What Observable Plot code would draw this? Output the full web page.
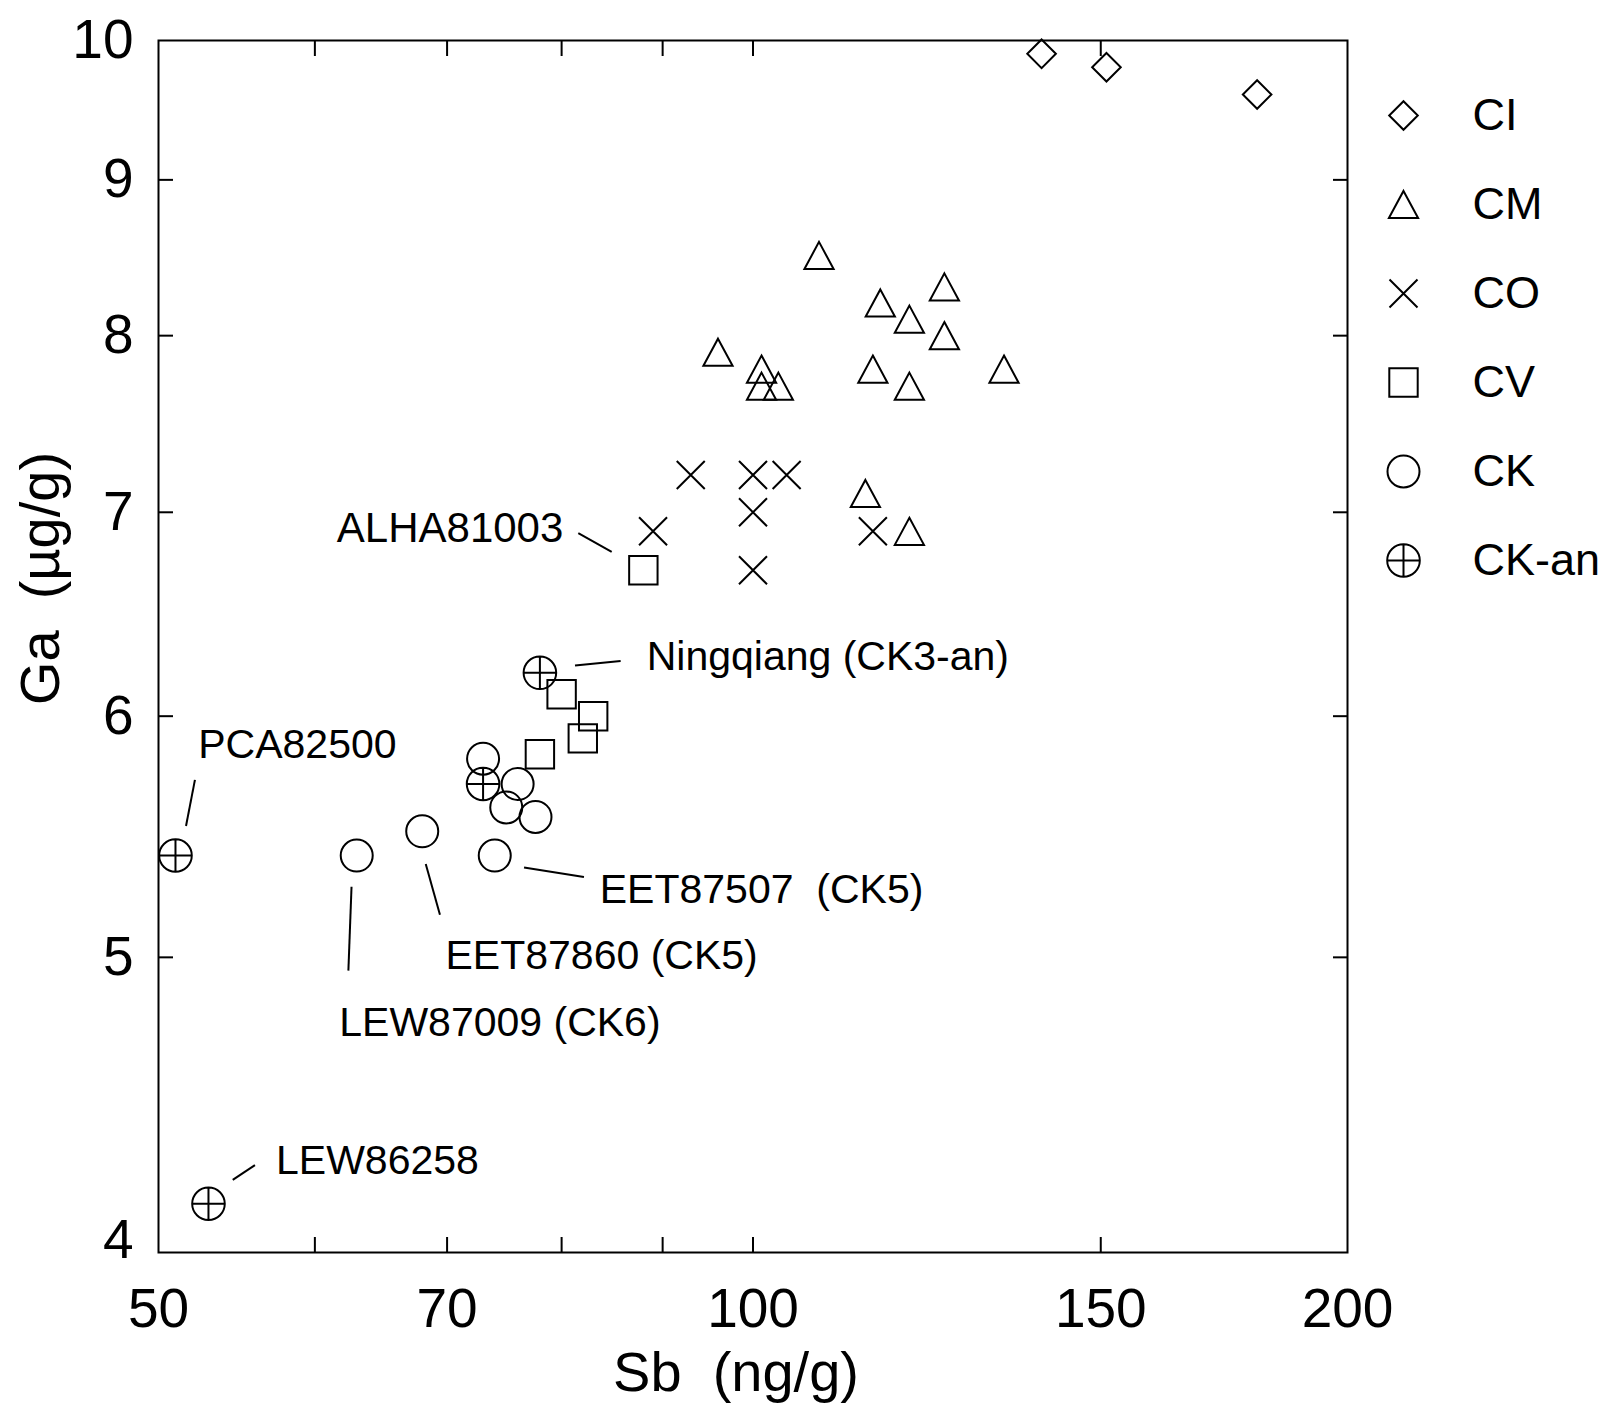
<!DOCTYPE html>
<html>
<head>
<meta charset="utf-8">
<script src="https://cdn.jsdelivr.net/npm/d3@7"></script>
<script src="https://cdn.jsdelivr.net/npm/@observablehq/plot@0.6"></script>
<style>
  html, body { margin: 0; padding: 0; background: #fff; }
  #wrap { position: relative; width: 1602px; height: 1407px; background: #fff; }
  #wrap svg { position: absolute; white-space: pre; }
</style>
</head>
<body>
<div id="wrap"></div>
<script>
// ---------------- data ----------------
const classes = ["CI", "CM", "CO", "CV", "CK", "CK-an"];

const ciSb = [140, 151, 180];
const ciGa = [9.9, 9.8, 9.6];

const cmSb = [108, 125, 116, 120, 125, 96, 101, 101, 103, 115, 120, 134, 114, 120];
const cmGa = [8.5, 8.3, 8.2, 8.1, 8.0, 7.9, 7.8, 7.7, 7.7, 7.8, 7.7, 7.8, 7.1, 6.9];

const coSb = [93, 100, 104, 100, 89, 115, 100];
const coGa = [7.2, 7.2, 7.2, 7.0, 6.9, 6.9, 6.7];

const cvSb = [88, 80, 83, 82, 78];
const cvGa = [6.7, 6.1, 6.0, 5.9, 5.83];

const ckSb = [73, 76, 75, 77.6, 68, 63, 74];
const ckGa = [5.81, 5.7, 5.6, 5.56, 5.5, 5.4, 5.4];

const ckanSb = [78, 73, 51, 53];
const ckanGa = [6.2, 5.7, 5.4, 4.15];

const xLabelTicks = [50, 70, 100, 150, 200];
const xMinorTicks = [60, 70, 80, 90, 100, 150];
const yLabelTicks = [5, 6, 7, 8, 9, 10];
const yBottomTick = [4];
const yMinorTicks = [5, 6, 7, 8, 9];

const xTitle = "Sb  (ng/g)";
const yTitle = "Ga  (µg/g)";

// annotation texts
const annTexts = ["ALHA81003", "Ningqiang (CK3-an)", "PCA82500", "LEW86258",
                  "EET87507  (CK5)", "EET87860 (CK5)", "LEW87009 (CK6)"];
// annotation placement in data units (Sb, Ga): label anchor, leader start, leader end
const annAnchorSb = [80.16, 88.34, 52.37, 57.34, 83.64, 69.87, 61.73];
const annAnchorGa = [6.843, 6.213, 5.812, 4.244, 5.209, 4.957, 4.711];
const annAlign    = ["end", "start", "start", "start", "start", "start", "start"];
const leadSb1 = [81.57, 81.26, 52.17, 55.95, 76.57, 68.28, 62.62];
const leadGa1 = [6.89, 6.234, 5.718, 4.273, 5.351, 5.366, 5.274];
const leadSb2 = [84.81, 85.70, 51.63, 54.52, 82.11, 69.42, 62.39];
const leadGa2 = [6.794, 6.256, 5.522, 4.226, 5.313, 5.164, 4.950];

// ---------------- symbols ----------------
const R = s => Math.sqrt(s / Math.PI);
const symDiamond = {draw(c, s) { const r = R(s); c.moveTo(0, -r); c.lineTo(r, 0); c.lineTo(0, r); c.lineTo(-r, 0); c.closePath(); }};
const symTriangle = {draw(c, s) { const r = R(s), h = 0.93 * r; c.moveTo(0, -h); c.lineTo(r, h); c.lineTo(-r, h); c.closePath(); }};
const symTimes = {draw(c, s) { const r = R(s); c.moveTo(-r, -r); c.lineTo(r, r); c.moveTo(-r, r); c.lineTo(r, -r); }};
const symSquare = {draw(c, s) { const r = R(s); c.rect(-r, -r, 2 * r, 2 * r); }};
const symCircle = {draw(c, s) { const r = R(s); c.moveTo(r, 0); c.arc(0, 0, r, 0, 2 * Math.PI); }};
const symCirclePlus = {draw(c, s) { const r = R(s); c.moveTo(r, 0); c.arc(0, 0, r, 0, 2 * Math.PI); c.moveTo(-r, 0); c.lineTo(r, 0); c.moveTo(0, -r); c.lineTo(0, r); }};

const styleOf = {
  "CI":    {symbol: symDiamond, r: 14.3},
  "CM":    {symbol: symTriangle, r: 14.6},
  "CO":    {symbol: symTimes, r: 14},
  "CV":    {symbol: symSquare, r: 14.2},
  "CK":    {symbol: symCircle, r: 16},
  "CK-an": {symbol: symCirclePlus, r: 16.3}
};

const series = {
  "CI": [ciSb, ciGa], "CM": [cmSb, cmGa], "CO": [coSb, coGa],
  "CV": [cvSb, cvGa], "CK": [ckSb, ckGa], "CK-an": [ckanSb, ckanGa]
};

const FONT = "'Liberation Sans', Arial, Helvetica, sans-serif";

const pointMarks = classes.map(cls => {
  const [xs, ys] = series[cls];
  const rows = xs.map((v, i) => ({sb: v, ga: ys[i]}));
  return Plot.dot(rows, {x: "sb", y: "ga", symbol: styleOf[cls].symbol, r: styleOf[cls].r,
    fill: "none", stroke: "black", strokeWidth: 2});
});

const ann = annTexts.map((t, i) => ({
  text: t, sb: annAnchorSb[i], ga: annAnchorGa[i], align: annAlign[i],
  x1: leadSb1[i], y1: leadGa1[i], x2: leadSb2[i], y2: leadGa2[i]
}));

const chart = Plot.plot({
  width: 1602, height: 1407,
  marginLeft: 158, marginRight: 255, marginTop: 40, marginBottom: 155,
  x: {type: "log", domain: [50, 200]},
  y: {type: "log", domain: [4, 10]},
  style: {fontFamily: FONT, color: "black", background: "white", overflow: "visible"},
  marks: [
    // inward ticks on all four sides
    Plot.axisX(xMinorTicks, {anchor: "bottom", tickSize: -15, fill: "none", strokeWidth: 2, label: null}),
    Plot.axisX(xMinorTicks, {anchor: "top", tickSize: -15, fill: "none", strokeWidth: 2, label: null}),
    Plot.axisY(yMinorTicks, {anchor: "left", tickSize: -15, fill: "none", strokeWidth: 2, label: null}),
    Plot.axisY(yMinorTicks, {anchor: "right", tickSize: -15, fill: "none", strokeWidth: 2, label: null}),
    // tick labels
    Plot.axisX(xLabelTicks, {anchor: "bottom", tickSize: 0, tickPadding: 35, fontSize: 55, label: null, tickFormat: d => String(d)}),
    Plot.axisY(yLabelTicks, {anchor: "left", tickSize: 0, tickPadding: 25, fontSize: 55, label: null, tickFormat: d => String(d)}),
    Plot.axisY(yBottomTick, {anchor: "left", tickSize: 0, tickPadding: 25, fontSize: 55, label: null, dy: -12, tickFormat: d => String(d)}),
    Plot.frame({stroke: "black", strokeWidth: 2}),
    // axis titles
    Plot.text([xTitle], {frameAnchor: "bottom", textAnchor: "middle", dx: -17, dy: 138, lineAnchor: "bottom", fontSize: 56}),
    Plot.text([yTitle], {frameAnchor: "left", textAnchor: "middle", rotate: -90, dx: -100, dy: -68, lineAnchor: "bottom", fontSize: 56}),
    // points
    ...pointMarks,
    // annotations
    Plot.link(ann, {x1: "x1", y1: "y1", x2: "x2", y2: "y2", stroke: "black", strokeWidth: 2}),
    Plot.text(ann.filter(d => d.align === "end"), {x: "sb", y: "ga", text: "text", textAnchor: "end", lineAnchor: "bottom", fontSize: 42}),
    Plot.text(ann.filter(d => d.align === "start"), {x: "sb", y: "ga", text: "text", textAnchor: "start", lineAnchor: "bottom", fontSize: 41})
  ]
});

// legend drawn as its own small plot, placed in the right margin
const legend = Plot.plot({
  width: 255, height: 640, margin: 0,
  x: {type: "linear", domain: [0, 1], range: [56, 125], axis: null},
  y: {type: "point", domain: classes, range: [115, 560], padding: 0, axis: null},
  style: {fontFamily: FONT, color: "black", background: "transparent", overflow: "visible"},
  marks: [
    ...classes.map(cls => Plot.dot([cls], {x: () => 0, y: d => d, symbol: styleOf[cls].symbol,
      r: styleOf[cls].r, fill: "none", stroke: "black", strokeWidth: 2})),
    Plot.text(classes, {x: () => 1, y: d => d, text: d => d, textAnchor: "start", fontSize: 45})
  ]
});

const wrap = document.getElementById("wrap");
chart.style.left = "0px"; chart.style.top = "0px";
legend.style.left = "1347px"; legend.style.top = "0px";
wrap.appendChild(chart);
wrap.appendChild(legend);
</script>
</body>
</html>
